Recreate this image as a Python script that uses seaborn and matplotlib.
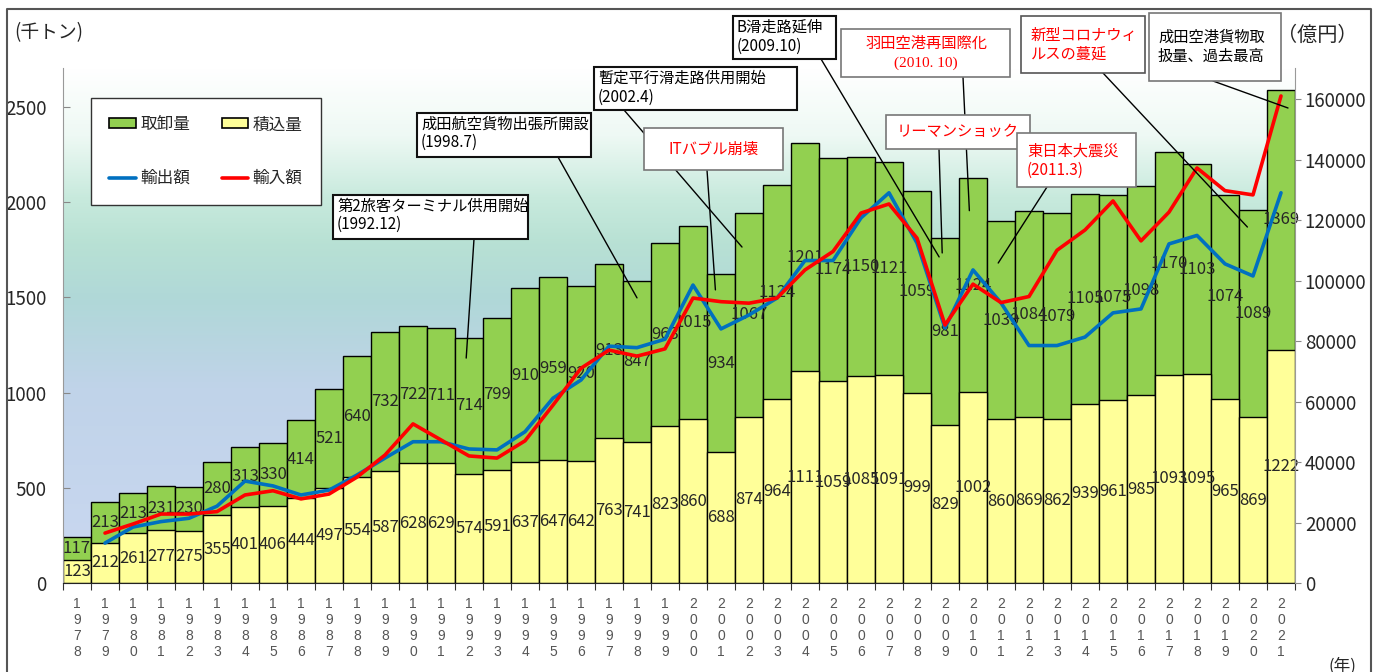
import numpy as np
import pandas as pd
import matplotlib.pyplot as plt
import seaborn as sns
from matplotlib.colors import LinearSegmentedColormap
from matplotlib.patches import Rectangle, Patch
from matplotlib.lines import Line2D

sns.set_style("ticks")
plt.rcParams['font.family'] = ['Noto Sans CJK JP', 'DejaVu Sans']

# 成田空港 貨物量（千トン）と貿易額（億円）
years = list(range(1978, 2022))
loaded = [123, 212, 261, 277, 275, 355, 401, 406, 444, 497, 554, 587, 628, 629, 574,
          591, 637, 647, 642, 763, 741, 823, 860, 688, 874, 964, 1111, 1059, 1085, 1091,
          999, 829, 1002, 860, 869, 862, 939, 961, 985, 1093, 1095, 965, 869, 1222]
unloaded = [117, 213, 213, 231, 230, 280, 313, 330, 414, 521, 640, 732, 722, 711, 714,
            799, 910, 959, 920, 913, 847, 963, 1015, 934, 1067, 1124, 1201, 1174, 1150, 1121,
            1059, 981, 1124, 1039, 1084, 1079, 1105, 1075, 1098, 1170, 1103, 1074, 1089, 1369]
# 輸出額・輸入額は1979年から
line_years = years[1:]
exports = [13200, 18500, 20300, 21400, 25400, 33700, 32100, 29100, 30700, 35700, 41300,
           46700, 46700, 44300, 44000, 50000, 61100, 67100, 78300, 77800, 80600, 98500,
           84000, 88600, 94200, 106600, 106600, 120700, 129000, 112400, 84300, 103500,
           92600, 78500, 78500, 81300, 89300, 90600, 112100, 114900, 105500, 101500, 129000]
imports = [16500, 19500, 22800, 22800, 23600, 29100, 30500, 27800, 29400, 35000, 42300,
           52600, 47300, 42000, 41300, 47000, 58800, 71000, 77000, 75000, 77400, 94200,
           93000, 92500, 94200, 103500, 109600, 122300, 125300, 114000, 85300, 98800,
           92700, 94700, 110000, 116700, 126300, 113100, 122600, 137200, 129700, 128300, 161000]

GREEN, YELLOW = '#92d050', '#ffff99'
BLUE, RED = '#0070c0', '#ff0000'

W, H = 1376, 672
fig = plt.figure(figsize=(W / 100, H / 100), dpi=100)
ax = fig.add_axes([63 / W, 1 - 583 / H, (1295 - 63) / W, 515 / H])

df = pd.DataFrame({'year': [str(y) for y in years], 'loaded': loaded, 'unloaded': unloaded})
df['total'] = df['loaded'] + df['unloaded']

# stacked bars: total in green, loaded in yellow over it
sns.barplot(data=df, x='year', y='total', color=GREEN, width=1, saturation=1,
            edgecolor='black', linewidth=1.0, ax=ax, zorder=2)
sns.barplot(data=df, x='year', y='loaded', color=YELLOW, width=1, saturation=1,
            edgecolor='black', linewidth=1.0, ax=ax, zorder=2)

YTOP = 2704
cmap = LinearSegmentedColormap.from_list('bg', [
    (0.0, '#cad8f1'), (0.38, '#c0d3e9'), (0.55, '#b0d8d8'), (0.66, '#b8e1d4'),
    (0.75, '#c8eadd'), (0.87, '#eef9f4'), (1.0, '#ffffff')])
grad = np.linspace(0, 1, 256).reshape(-1, 1)
ax.imshow(grad, extent=[-0.5, 43.5, 0, YTOP], aspect='auto', cmap=cmap,
          origin='lower', zorder=0)

for i in range(len(years)):
    ax.text(i, loaded[i] / 2, str(loaded[i]), ha='center', va='center',
            fontsize=12, zorder=5)
    ax.text(i, loaded[i] + unloaded[i] / 2, str(unloaded[i]), ha='center',
            va='center', fontsize=12, zorder=5)

ax.set_xlim(-0.5, 43.5)
ax.set_ylim(0, YTOP)
ax.set_xlabel('')
ax.set_ylabel('')
ax.set_xticks(np.arange(-0.5, 44, 1), labels=[])
ax.set_xticks(range(len(years)), labels=['\n'.join(str(y)) for y in years], minor=True)
ax.tick_params(axis='x', which='major', length=5, direction='out', color='#333')
ax.tick_params(axis='x', which='minor', length=0, pad=10, labelsize=10,
               labelcolor='#555')
for lab in ax.get_xticklabels(minor=True):
    lab.set_family('Liberation Sans')
    lab.set_linespacing(1.19)
ax.set_yticks(range(0, 2501, 500))
ax.tick_params(axis='y', direction='in', length=5, pad=12, labelsize=13.5,
               color='#888')
for s in ['top', 'right']:
    ax.spines[s].set_visible(False)
ax.spines['left'].set_color('#999')
ax.spines['bottom'].set_color('#222')

ax2 = ax.twinx()
sns.lineplot(x=np.arange(1, 44), y=exports, ax=ax2, color=BLUE, linewidth=2.6, zorder=4)
sns.lineplot(x=np.arange(1, 44), y=imports, ax=ax2, color=RED, linewidth=2.6, zorder=4)
ax2.set_ylim(0, 170250)
ax2.set_xlim(-0.5, 43.5)
ax2.set_yticks(range(0, 160001, 20000))
ax2.tick_params(axis='y', direction='out', length=4, pad=3, labelsize=13.5, color='#888')
for s in ['top', 'left', 'bottom']:
    ax2.spines[s].set_visible(False)
ax2.spines['right'].set_color('#999')
ax2.set_ylabel('')

handles = [Patch(facecolor=GREEN, edgecolor='black', linewidth=1.2),
           Line2D([], [], color=BLUE, lw=2.6),
           Patch(facecolor=YELLOW, edgecolor='black', linewidth=1.2),
           Line2D([], [], color=RED, lw=2.6)]
leg = ax2.legend(handles, ['取卸量', '輸出額', '積込量', '輸入額'], ncol=2,
                 loc='upper left', bbox_to_anchor=(91 / W, 1 - 98 / H),
                 bbox_transform=fig.transFigure, borderaxespad=0, fontsize=12,
                 handlelength=1.6, handleheight=0.55, handletextpad=0.25,
                 columnspacing=1.9, labelspacing=2.2, borderpad=1.1,
                 fancybox=False, framealpha=1, edgecolor='#333')
leg.get_frame().set_linewidth(1.0)


def fxy(x, y):
    return (x / W, 1 - y / H)


def dxy(i, v):
    return fig.transFigure.inverted().transform(ax.transData.transform((i, v)))


# annotation boxes: box in pixels, text lines, leader line (start pixel, end data)
notes = [
    dict(box=(333, 195, 528, 239), edge='#111', lw=1.5, color='black',
         text=[('第2旅客ターミナル供用開始', 337, 206), ('(1992.12)', 337, 224)],
         lead=((474, 239), (13.9, 1181))),
    dict(box=(417, 113, 591, 157), edge='#111', lw=1.5, color='black',
         text=[('成田航空貨物出張所開設', 421, 124), ('(1998.7)', 421, 142)],
         lead=((558, 157), (20.0, 1497))),
    dict(box=(594, 67, 797, 110), edge='#111', lw=1.5, color='black',
         text=[('暫定平行滑走路供用開始', 598, 78), ('(2002.4)', 598, 97)],
         lead=((624, 110), (23.75, 1764))),
    dict(box=(644, 128, 783, 170), edge='#777', lw=1.2, color=RED, center=True,
         text=[('ITバブル崩壊', 713, 149)],
         lead=((707, 170), (22.8, 1539))),
    dict(box=(733, 16, 836, 59), edge='#111', lw=1.5, color='black',
         text=[('B滑走路延伸', 737, 27), ('(2009.10)', 737, 46)],
         lead=((821, 59), (30.79, 1712))),
    dict(box=(841, 29, 1010, 77), edge='#777', lw=1.2, color=RED, center=True,
         text=[('羽田空港再国際化', 926, 43), ('(2010. 10)', 926, 63)],
         lead=((963, 77), (31.87, 1955))),
    dict(box=(886, 115, 1030, 149), edge='#777', lw=1.2, color=RED,
         text=[('リーマンショック', 897, 131)],
         lead=((939, 149), (30.9, 1733))),
    dict(box=(1017, 133, 1136, 187), edge='#777', lw=1.2, color=RED,
         text=[('東日本大震災', 1027, 151), ('(2011.3)', 1027, 170)],
         lead=((1047, 187), (32.9, 1680))),
    dict(box=(1021, 16, 1145, 73), edge='#555', lw=1.2, color=RED,
         text=[('新型コロナウィ', 1031, 35), ('ルスの蔓延', 1031, 54)],
         lead=((1103, 73), (41.8, 1869))),
    dict(box=(1149, 13, 1281, 81), edge='#777', lw=1.2, color='black',
         text=[('成田空港貨物取', 1158, 37), ('扱量、過去最高', 1158, 56)],
         lead=((1213, 81), (43.25, 2494))),
]

for n in notes:
    (sx, sy), (di, dv) = n['lead']
    p0 = fxy(sx, sy)
    p1 = dxy(di, dv)
    fig.add_artist(Line2D([p0[0], p1[0]], [p0[1], p1[1]], transform=fig.transFigure,
                          color='black', lw=1.0, zorder=0.5))
for n in notes:
    x0, y0, x1, y1 = n['box']
    fig.add_artist(Rectangle(fxy(x0, y1), (x1 - x0) / W, (y1 - y0) / H,
                             transform=fig.transFigure, facecolor='white',
                             edgecolor=n['edge'], lw=n['lw'], zorder=1))
    for k, (t, tx, ty) in enumerate(n['text']):
        kw = {}
        if t.startswith('(2010'):
            kw['family'] = ['Liberation Serif', 'Noto Sans CJK JP']
        fig.text(*fxy(tx, ty), t, color=n['color'], fontsize=11, va='center',
                 ha='center' if n.get('center') else 'left', zorder=3, **kw)

fig.text(*fxy(14, 33), '(千トン)', fontsize=13.5, va='center', ha='left')
fig.text(*fxy(1277, 35), '（億円）', fontsize=14.5, va='center', ha='left')
fig.text(*fxy(1328, 666), '(年)', fontsize=12, va='center', ha='left')

# outer frame
fig.add_artist(Line2D(np.array([7, 7, 1371, 1371]) / W,
                      1 - np.array([700, 9, 9, 700]) / H,
                      transform=fig.transFigure, color='#555', lw=1.5, zorder=5))

fig.savefig('out.png', dpi=100)
